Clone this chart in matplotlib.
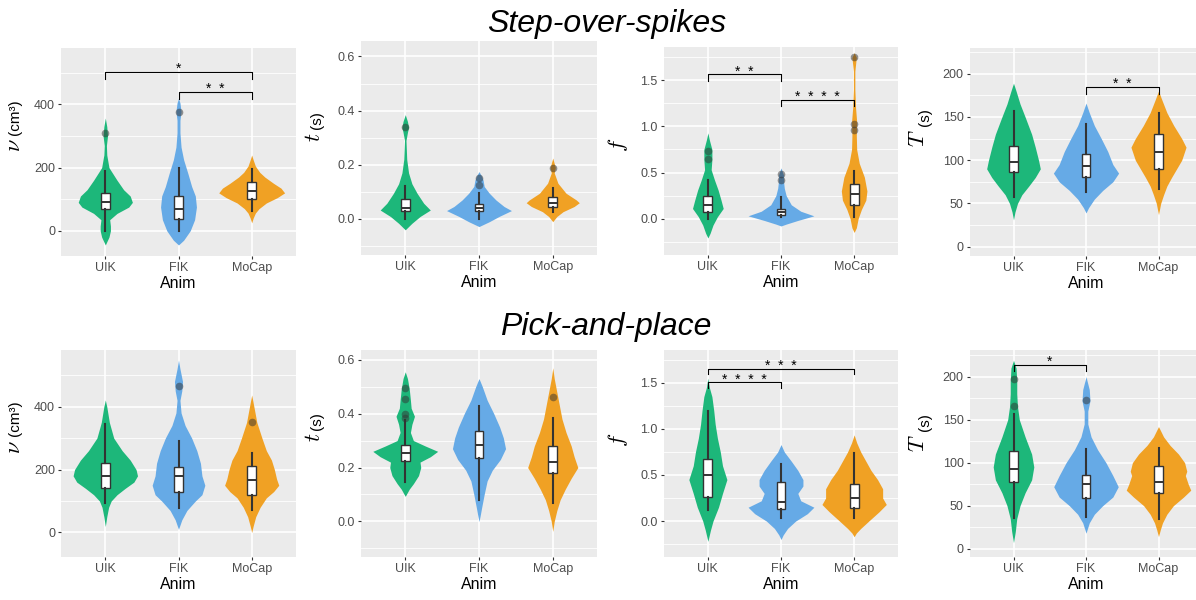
import matplotlib
matplotlib.use("Agg")
import matplotlib.pyplot as plt

plt.rcParams["font.family"] = ["Liberation Sans", "DejaVu Sans"]
plt.rcParams["mathtext.fontset"] = "cm"

groups = ["UIK", "FIK", "MoCap"]
colors = ["#1DB77A", "#66AAE6", "#F0A124"]

# ---------- Step-over-spikes ----------
# volume v (cm3): violin outline (y, half width) per group
sv_y = [[-45, -20, 0, 15, 35, 55, 75, 90, 110, 130, 160, 200, 240, 270, 300, 330, 357],
        [-45, -30, 0, 35, 75, 110, 140, 180, 225, 265, 310, 350, 378, 405, 420],
        [25, 40, 56, 70, 88, 105, 120, 135, 150, 170, 185, 205, 225, 240]]
sv_w = [[0, .05, .07, .07, .06, .16, .32, .37, .34, .25, .16, .05, .02, .015, .03, .02, 0],
        [0, .07, .16, .22, .245, .23, .18, .13, .07, .035, .02, .02, .035, .02, 0],
        [0, .02, .05, .1, .2, .35, .45, .4, .3, .18, .11, .05, .02, 0]]
sv_box = [(0, 70, 90, 120, 190), (0, 37, 70, 110, 200), (62, 100, 125, 155, 195)]
sv_out = [[311], [375], []]
sv_sig = [(1, 3, 503, 481, "*"), (2, 3, 439, 418, "*  *")]

# time t (s)
st_y = [[-0.04, -0.016, 0.009, 0.033, 0.058, 0.095, 0.13, 0.17, 0.22, 0.29, 0.32, 0.338, 0.36, 0.385],
        [-0.028, -0.01, 0.009, 0.031, 0.046, 0.07, 0.095, 0.12, 0.144, 0.16, 0.175],
        [-0.01, 0.009, 0.027, 0.046, 0.06, 0.07, 0.095, 0.132, 0.17, 0.19, 0.225]]
st_w = [[0, .09, .2, .34, .25, .16, .09, .045, .02, .01, .03, .045, .03, 0],
        [0, .14, .27, .44, .34, .23, .14, .07, .055, .03, 0],
        [0, .055, .14, .29, .36, .32, .18, .07, .02, .035, 0]]
st_box = [(0, 0.03, 0.04, 0.075, 0.12), (0, 0.03, 0.04, 0.055, 0.095), (0.025, 0.045, 0.06, 0.08, 0.115)]
st_out = [[0.338], [0.15, 0.125], [0.19]]
st_sig = []

# f
sf_y = [[-0.21, -0.16, -0.07, 0.02, 0.11, 0.2, 0.31, 0.42, 0.53, 0.64, 0.75, 0.855, 0.93],
        [-0.08, -0.06, -0.02, 0.03, 0.08, 0.15, 0.25, 0.33, 0.4, 0.47, 0.55],
        [-0.15, -0.1, 0.0, 0.1, 0.2, 0.3, 0.45, 0.6, 0.75, 0.9, 1.05, 1.2, 1.4, 1.6, 1.75, 1.8]]
sf_w = [[0, .03, .07, .13, .21, .18, .14, .09, .045, .055, .055, .02, 0],
        [0, .07, .23, .45, .27, .14, .07, .045, .035, .035, 0],
        [0, .03, .055, .1, .16, .175, .14, .07, .035, .03, .035, .02, .01, .01, .03, 0]]
sf_box = [(0, 0.07, 0.15, 0.24, 0.42), (0.02, 0.04, 0.07, 0.1, 0.23), (0.02, 0.15, 0.27, 0.37, 0.52)]
sf_out = [[0.73, 0.65], [0.48, 0.42], [1.75, 1.03, 0.96]]
sf_sig = [(1, 2, 1.565, 1.49, "*  *"), (2, 3, 1.29, 1.22, "*  *  *  *")]

# total time T (s)
sT_y = [[31, 40, 50, 60, 70, 80, 90, 100, 115, 130, 150, 165, 180, 189],
        [39, 45, 55, 65, 75, 85, 95, 110, 125, 140, 155, 166],
        [37, 50, 60, 70, 80, 90, 100, 115, 125, 140, 155, 170, 180]]
sT_w = [[0, .02, .055, .115, .21, .3, .37, .345, .3, .25, .16, .09, .035, 0],
        [0, .035, .115, .23, .37, .45, .37, .3, .21, .115, .045, 0],
        [0, .03, .07, .115, .18, .25, .32, .38, .32, .21, .115, .045, 0]]
sT_box = [(57, 86, 98, 116, 157), (63, 81, 93, 107, 142), (67, 90, 110, 130, 155)]
sT_out = [[], [], []]
sT_sig = [(2, 3, 185, 176, "*  *")]

# ---------- Pick-and-place ----------
pv_y = [[19, 50, 80, 100, 120, 140, 160, 180, 200, 230, 260, 300, 350, 400, 421],
        [10, 40, 70, 100, 120, 150, 180, 220, 260, 300, 340, 380, 420, 450, 480, 520, 548],
        [0, 20, 50, 80, 110, 130, 150, 170, 200, 230, 260, 300, 350, 400, 437]]
pv_w = [[0, .02, .045, .08, .16, .27, .39, .44, .42, .34, .23, .115, .055, .02, 0],
        [0, .045, .115, .23, .32, .36, .32, .3, .25, .18, .09, .035, .02, .045, .055, .02, 0],
        [0, .02, .055, .115, .2, .3, .37, .34, .31, .27, .2, .14, .07, .03, 0]]
pv_box = [(95, 140, 180, 222, 345), (78, 128, 178, 208, 290), (72, 120, 168, 210, 252)]
pv_out = [[], [465], [350]]
pv_sig = []

pt_y = [[0.093, 0.12, 0.14, 0.17, 0.2, 0.22, 0.24, 0.26, 0.28, 0.3, 0.33, 0.36, 0.39, 0.42, 0.45, 0.49, 0.53, 0.555],
        [0.0, 0.02, 0.05, 0.1, 0.15, 0.19, 0.23, 0.27, 0.31, 0.35, 0.4, 0.45, 0.5, 0.53],
        [-0.037, 0.0, 0.04, 0.08, 0.12, 0.16, 0.2, 0.24, 0.28, 0.33, 0.38, 0.43, 0.48, 0.53, 0.57]]
pt_w = [[0, .055, .11, .18, .21, .2, .34, .44, .27, .11, .07, .09, .125, .08, .07, .055, .03, 0],
        [0, .015, .035, .07, .11, .18, .29, .36, .33, .28, .2, .11, .045, 0],
        [0, .02, .055, .1, .17, .25, .34, .29, .25, .18, .125, .09, .055, .02, 0]]
pt_box = [(0.145, 0.225, 0.255, 0.285, 0.375), (0.08, 0.235, 0.285, 0.335, 0.43), (0.07, 0.18, 0.22, 0.28, 0.385)]
pt_out = [[0.495, 0.455, 0.399, 0.385], [], [0.462]]
pt_sig = []

pf_y = [[-0.22, -0.1, 0.0, 0.15, 0.3, 0.45, 0.6, 0.75, 0.9, 1.05, 1.2, 1.35, 1.45, 1.55],
        [-0.2, -0.15, -0.08, 0.0, 0.08, 0.15, 0.22, 0.3, 0.38, 0.45, 0.55, 0.65, 0.75, 0.83],
        [-0.17, -0.13, -0.08, 0.0, 0.1, 0.18, 0.25, 0.35, 0.45, 0.55, 0.65, 0.75, 0.85, 0.935]]
pf_w = [[0, .035, .07, .145, .2, .26, .2, .17, .13, .1, .08, .055, .02, 0],
        [0, .03, .09, .2, .36, .45, .27, .23, .3, .3, .23, .14, .045, 0],
        [0, .03, .09, .2, .34, .44, .39, .39, .32, .23, .16, .09, .035, 0]]
pf_box = [(0.12, 0.26, 0.5, 0.67, 1.19), (0.03, 0.13, 0.21, 0.42, 0.62), (0.03, 0.14, 0.25, 0.4, 0.74)]
pf_out = [[], [], []]
pf_sig = [(1, 3, 1.65, 1.6, "*  *  *"), (1, 2, 1.505, 1.44, "*  *  *  *")]

pT_y = [[7, 20, 35, 50, 65, 80, 95, 110, 130, 150, 165, 180, 195, 210, 219],
        [18, 30, 40, 50, 60, 72, 85, 100, 115, 130, 145, 160, 172, 185, 200],
        [14, 22, 30, 40, 50, 60, 68, 75, 85, 90, 100, 110, 120, 130, 142]]
pT_w = [[0, .025, .045, .09, .16, .25, .28, .25, .16, .08, .055, .045, .045, .035, 0],
        [0, .045, .115, .23, .37, .445, .37, .275, .16, .07, .025, .025, .055, .045, 0],
        [0, .025, .055, .115, .205, .345, .445, .41, .37, .39, .36, .275, .16, .07, 0]]
pT_box = [(36, 78, 93, 113, 157), (37, 59, 75, 86, 116), (35, 65, 77, 96, 117)]
pT_out = [[197, 166], [173], []]
pT_sig = [(1, 2, 213.5, 206, "*")]

v_ticks = [0, 200, 400]
v_minor = [100, 300, 500]
t_ticks = [0.0, 0.2, 0.4, 0.6]
t_minor = [-0.1, 0.1, 0.3, 0.5]
f_ticks = [0.0, 0.5, 1.0, 1.5]
f_minor = [-0.25, 0.25, 0.75, 1.25, 1.75]
T_ticks = [0, 50, 100, 150, 200]
T_minor = [25, 75, 125, 175, 225]

W, H = 1196, 600
fig = plt.figure(figsize=(W / 100, H / 100), dpi=100)


def rect(l, t, r, b):
    return [l / W, 1 - b / H, (r - l) / W, (b - t) / H]


# (violin y, violin w, box, outliers, sig, ticks, minor, tick fmt, ylim, pixel rect)
panels = [
    (sv_y, sv_w, sv_box, sv_out, sv_sig, v_ticks, v_minor, "{:.0f}", (-80, 579), (61.4, 48, 295.6, 256)),
    (st_y, st_w, st_box, st_out, st_sig, t_ticks, t_minor, "{:.1f}", (-0.133, 0.657), (361, 41, 597, 255)),
    (sf_y, sf_w, sf_box, sf_out, sf_sig, f_ticks, f_minor, "{:.1f}", (-0.395, 1.862), (664, 47, 898, 255)),
    (sT_y, sT_w, sT_box, sT_out, sT_sig, T_ticks, T_minor, "{:.0f}", (-10.8, 229.7), (970, 48, 1202, 256)),
    (pv_y, pv_w, pv_box, pv_out, pv_sig, v_ticks, v_minor, "{:.0f}", (-78, 580), (61.4, 350, 295.6, 557)),
    (pt_y, pt_w, pt_box, pt_out, pt_sig, t_ticks, t_minor, "{:.1f}", (-0.132, 0.636), (361, 350, 597, 557)),
    (pf_y, pf_w, pf_box, pf_out, pf_sig, f_ticks, f_minor, "{:.1f}", (-0.39, 1.856), (664, 350, 898, 557)),
    (pT_y, pT_w, pT_box, pT_out, pT_sig, T_ticks, T_minor, "{:.0f}", (-9.7, 231), (970, 350, 1202, 557)),
]

for vy, vw, box, out, sig, ticks, minor, fmt, ylim, px in panels:
    ax = fig.add_axes(rect(*px))
    ax.set_facecolor("#EBEBEB")
    for s in ax.spines.values():
        s.set_visible(False)

    for i in range(3):
        x = i + 1
        left = [x - w for w in vw[i]]
        right = [x + w for w in vw[i]]
        ax.fill_betweenx(vy[i], left, right, color=colors[i], lw=0, zorder=2)

    stats = []
    for i in range(3):
        lo, q1, med, q3, hi = box[i]
        stats.append(dict(whislo=lo, q1=q1, med=med, q3=q3, whishi=hi, fliers=out[i]))
    ax.bxp(stats, positions=[1, 2, 3], widths=0.12, patch_artist=True, showcaps=False,
           boxprops=dict(facecolor="white", edgecolor="#333333", linewidth=1.0),
           whiskerprops=dict(color="#333333", linewidth=1.5),
           medianprops=dict(color="#333333", linewidth=1.4),
           flierprops=dict(marker="o", markerfacecolor="#333333", markeredgecolor="none",
                           markersize=5.5, alpha=0.5),
           zorder=3)

    for x1, x2, y, yb, lab in sig:
        ax.plot([x1, x1, x2, x2], [yb, y, y, yb], color="black", lw=0.8, zorder=4)
        ax.annotate(lab, ((x1 + x2) / 2, y), xytext=(0, -3), textcoords="offset points",
                    ha="center", va="bottom", fontsize=10, zorder=4)

    ax.set_xlim(0.4, 3.6)
    ax.set_ylim(*ylim)
    ax.set_xticks([1, 2, 3])
    ax.set_xticklabels(groups)
    ax.set_yticks(ticks)
    ax.set_yticklabels([fmt.format(t) for t in ticks])
    ax.set_yticks(minor, minor=True)
    ax.grid(which="major", color="white", lw=1.2)
    ax.grid(which="minor", axis="y", color="white", lw=0.6)
    ax.set_axisbelow(True)
    ax.tick_params(which="major", length=2.5, width=0.8, color="#333333",
                   labelcolor="#4D4D4D", labelsize=9, pad=2)
    ax.tick_params(which="minor", length=0)
    ax.set_xlabel("Anim", fontsize=11.5, labelpad=1)

# y labels (symbol + unit)
ylabels = [
    (15, 145, r"$\nu$", 15, 117, "(cm³)"),
    (315, 137, r"$t$", 317, 120, "(s)"),
    (618, 145, r"$f$", None, None, None),
    (919, 138, r"$T$", 925, 117, "(s)"),
    (15, 447, r"$\nu$", 15, 418, "(cm³)"),
    (315, 437, r"$t$", 317, 421, "(s)"),
    (618, 440, r"$f$", None, None, None),
    (919, 443, r"$T$", 925, 422, "(s)"),
]
for sx, sy, sym, ux, uy, unit in ylabels:
    fig.text(sx / W, 1 - sy / H, sym, rotation=90, ha="center", va="center", fontsize=16)
    if unit:
        fig.text(ux / W, 1 - uy / H, unit, rotation=90, ha="center", va="center", fontsize=11)

fig.text(607 / W, 1 - 32 / H, "Step-over-spikes", ha="center", va="baseline",
         fontsize=23, style="italic")
fig.text(606 / W, 1 - 335 / H, "Pick-and-place", ha="center", va="baseline",
         fontsize=23, style="italic")

fig.savefig("out.png", dpi=100)
